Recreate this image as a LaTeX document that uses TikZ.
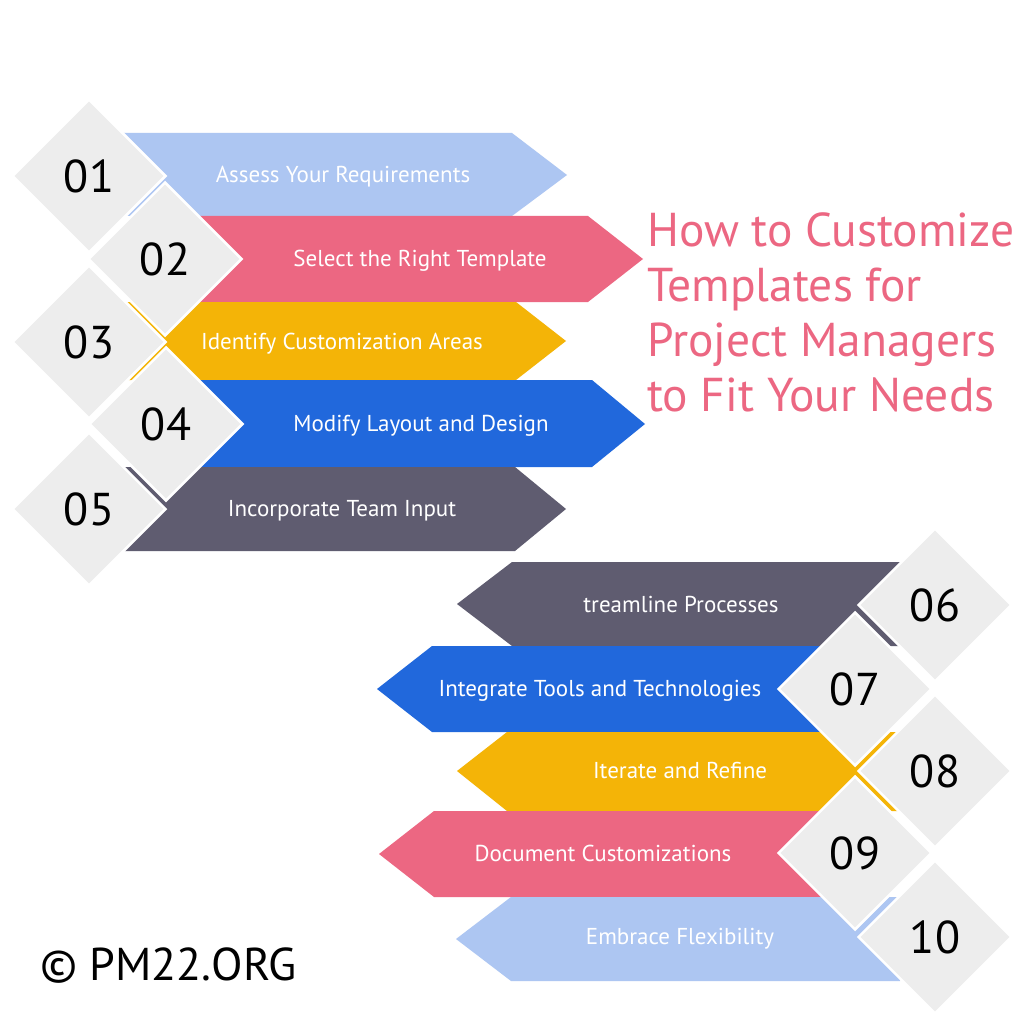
\documentclass[tikz,border=0pt]{standalone}
\usepackage{fontspec}
\setmainfont{PT Sans}
\usetikzlibrary{shapes.geometric}
\definecolor{skyblue}{RGB}{173,198,242}
\definecolor{rosepink}{RGB}{236,103,130}
\definecolor{amber}{RGB}{244,180,7}
\definecolor{royalblue}{RGB}{33,104,220}
\definecolor{slate}{RGB}{95,92,112}
\definecolor{paper}{RGB}{237,237,237}

\begin{document}
\begin{tikzpicture}[x=1pt, y=-1pt,
    numbox/.style={diamond, fill=paper, draw=white, line width=2.5pt, minimum width=154pt, minimum height=154pt, inner sep=0pt, font=\fontsize{46}{46}\selectfont},
    steptext/.style={text=white, anchor=base, inner sep=0pt, font=\fontsize{23}{26}\selectfont},
    headline/.style={text=rosepink, anchor=north west, align=left, inner sep=0pt, font=\fontsize{47.5}{55}\selectfont}
]

\fill[white] (0,0) rectangle (1024,1024);
\useasboundingbox (0,0) rectangle (1024,1024);

% left column of banners
\fill[skyblue]   (122,133) -- (512,133) -- (567,175) -- (512,216) -- (122,216) -- cycle;
\fill[rosepink]  (165,216) -- (588,216) -- (643,259) -- (588,302) -- (165,302) -- cycle;
\fill[amber]     (122,302) -- (516,302) -- (566,341) -- (516,380) -- (122,380) -- cycle;
\fill[royalblue] (165,380) -- (592,380) -- (645,424) -- (592,467) -- (165,467) -- cycle;
\fill[slate]     (122,467) -- (515,467) -- (566,509) -- (515,551) -- (122,551) -- cycle;

% right column of banners
\fill[slate]     (900,562) -- (512,562) -- (457,604) -- (512,646) -- (900,646) -- cycle;
\fill[royalblue] (855,646) -- (432,646) -- (377,689) -- (432,732) -- (855,732) -- cycle;
\fill[amber]     (900,732) -- (507,732) -- (457,771) -- (507,811) -- (900,811) -- cycle;
\fill[rosepink]  (855,811) -- (434,811) -- (379,854) -- (434,897) -- (855,897) -- cycle;
\fill[skyblue]   (900,897) -- (511,897) -- (456,939) -- (511,981) -- (900,981) -- cycle;

% number diamonds
\node[numbox] (d01) at (89,176) {01};
\node[numbox] (d02) at (165,259) {02};
\node[numbox] (d03) at (89,342) {03};
\node[numbox] (d04) at (166,424) {04};
\node[numbox] (d05) at (89,509) {05};
\node[numbox] (d06) at (935,605) {06};
\node[numbox] (d07) at (855,689) {07};
\node[numbox] (d08) at (935,771) {08};
\node[numbox] (d09) at (855,853) {09};
\node[numbox] (d10) at (935,937) {10};

% step labels
\node[steptext] (t01) at (343,183) {Assess Your Requirements};
\node[steptext] (t02) at (420,266) {Select the Right Template};
\node[steptext] (t03) at (342,349) {Identify Customization Areas};
\node[steptext] (t04) at (421,431) {Modify Layout and Design};
\node[steptext] (t05) at (342,516) {Incorporate Team Input};
\node[steptext] (t06) at (681,612) {treamline Processes};
\node[steptext] (t07) at (600,696) {Integrate Tools and Technologies};
\node[steptext] (t08) at (680,778) {Iterate and Refine};
\node[steptext] (t09) at (603,861) {Document Customizations};
\node[steptext] (t10) at (680,944) {Embrace Flexibility};

% title and credit
\node[headline] (title) at (647,212) {How to Customize\\Templates for\\Project Managers\\to Fit Your Needs};
\node[anchor=base west, inner sep=0pt, font=\fontsize{46}{46}\selectfont] (credit) at (40,980) {© PM22.ORG};

\end{tikzpicture}
\end{document}
